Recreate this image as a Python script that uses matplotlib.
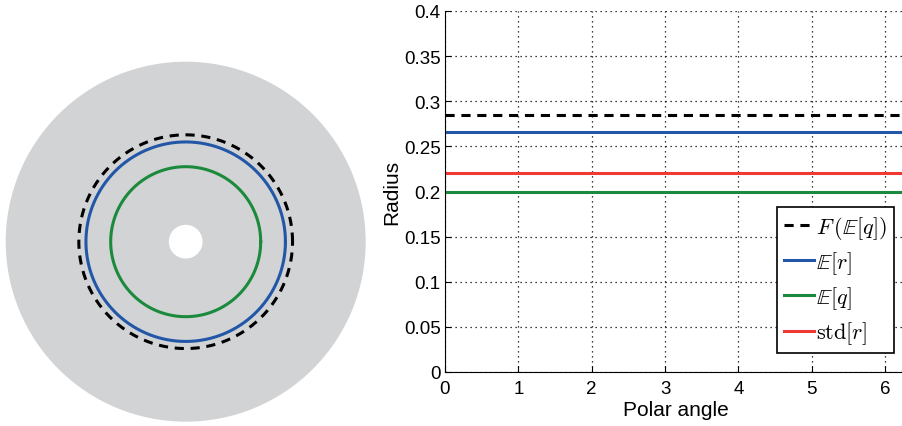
import numpy as np
import matplotlib.pyplot as plt
from matplotlib.patches import Wedge

# Werte aus dem Bild geschätzt
disk_outer = 0.48
disk_inner = 0.045
labels = [r'$F\,(\mathbb{E}[q])$', r'$\mathbb{E}[r]$', r'$\mathbb{E}[q]$', r'$\mathrm{std}[r]$']
radii = [0.285, 0.266, 0.2, 0.221]
colors = ['black', '#2257a8', '#1b8a3c', '#ee3a33']
styles = ['--', '-', '-', '-']
on_disk = [True, True, True, False]

plt.rcParams['font.family'] = ['Liberation Sans', 'DejaVu Sans']
plt.rcParams['mathtext.fontset'] = 'cm'

fig = plt.figure(figsize=(9.02, 4.27), dpi=100)

# links: Scheibe mit Kreisen
ax0 = fig.add_axes([0.00216, 0.0013, 0.4074, 0.8607])
ax0.add_patch(Wedge((0, 0), disk_outer, 0, 360, width=disk_outer - disk_inner,
                    facecolor='#d2d3d5', edgecolor='none'))
phi = np.linspace(0, 2 * np.pi, 400)
for r, c, ls, show in zip(radii, colors, styles, on_disk):
    if show:
        ax0.plot(r * np.cos(phi), r * np.sin(phi), color=c, ls=ls, lw=2.2,
                 dashes=(3, 2.2) if ls == '--' else (None, None))
ax0.set_xlim(-0.49, 0.49)
ax0.set_ylim(-0.49, 0.49)
ax0.set_aspect('equal')
ax0.axis('off')

# rechts: Radius über Polarwinkel
ax = fig.add_axes([445 / 902, 54 / 427, 461 / 902, 361 / 427])
theta = np.array([0, 2 * np.pi])
for r, c, ls, lab in zip(radii, colors, styles, labels):
    ax.plot(theta, [r, r], color=c, ls=ls, lw=2.2, label=lab,
            dashes=(3, 2.2) if ls == '--' else (None, None))
ax.set_xlim(0, 2 * np.pi)
ax.set_ylim(0, 0.4)
ax.set_xticks(range(7))
ax.set_yticks(np.arange(0, 0.41, 0.05))
ax.set_yticklabels(['0', '0.05', '0.1', '0.15', '0.2', '0.25', '0.3', '0.35', '0.4'])
ax.grid(True, ls=(0, (1, 3)), color='black', lw=0.9)
ax.tick_params(direction='in', labelsize=13.5, length=4)
ax.tick_params(axis='x', pad=6)
ax.tick_params(axis='y', pad=3)
for s in ['top', 'right']:
    ax.spines[s].set_visible(False)
ax.set_xlabel('Polar angle', fontsize=15, labelpad=2)
ax.set_ylabel('Radius', fontsize=15, labelpad=2)

leg = ax.legend(loc='upper left', bbox_to_anchor=(777 / 902, 1 - 208 / 427),
                bbox_transform=fig.transFigure, fontsize=16, handlelength=1.35,
                handletextpad=0.1, labelspacing=0.38, borderpad=0.3,
                borderaxespad=0, fancybox=False, framealpha=1)
leg.get_frame().set_edgecolor('black')
leg.get_frame().set_linewidth(1.2)

fig.savefig('out.png', dpi=100)
